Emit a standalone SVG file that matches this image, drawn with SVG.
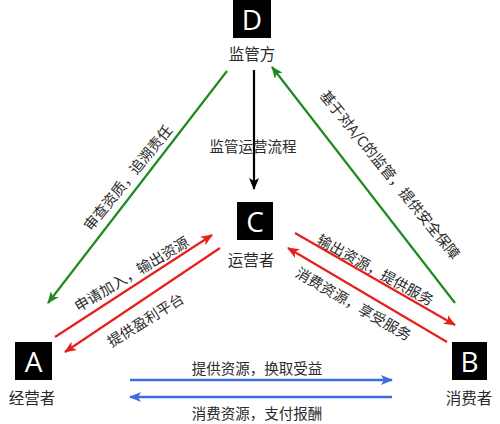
<svg xmlns="http://www.w3.org/2000/svg" width="500" height="424" viewBox="0 0 500 424">
<style>
.box{fill:#000}
.ltr{font-family:"Open Sans","Liberation Sans",sans-serif;font-size:28px;fill:#fff;text-anchor:middle;dominant-baseline:central}
.lbl{font-family:"Noto Sans CJK SC",sans-serif;font-size:14.5px;fill:#2a2a2a;text-anchor:middle;dominant-baseline:central}
.nl{font-size:15.5px}
.g{stroke:#1f8a1f;stroke-width:2.2;fill:none}
.r{stroke:#e8201c;stroke-width:2.2;fill:none}
.b{stroke:#3c6ee0;stroke-width:2.5;fill:none}
.k{stroke:#000;stroke-width:2.2;fill:none}
</style>
<defs>
<marker id="ag" viewBox="0 0 12 10" refX="11" refY="5" markerWidth="12" markerHeight="10" markerUnits="userSpaceOnUse" orient="auto"><path d="M0,0 L12,5 L0,10 L3,5 z" fill="#1f8a1f"/></marker>
<marker id="ar" viewBox="0 0 12 10" refX="11" refY="5" markerWidth="12" markerHeight="10" markerUnits="userSpaceOnUse" orient="auto"><path d="M0,0 L12,5 L0,10 L3,5 z" fill="#e8201c"/></marker>
<marker id="ab" viewBox="0 0 12 10" refX="11" refY="5" markerWidth="12" markerHeight="10" markerUnits="userSpaceOnUse" orient="auto"><path d="M0,0 L12,5 L0,10 L3,5 z" fill="#3c6ee0"/></marker>
<marker id="ak" viewBox="0 0 12 10" refX="11" refY="5" markerWidth="12" markerHeight="10" markerUnits="userSpaceOnUse" orient="auto"><path d="M0,0 L12,5 L0,10 L3,5 z" fill="#000"/></marker>
</defs>
<rect width="500" height="424" fill="#fff"/>
<g id="connectors">
<line class="k" x1="254" y1="70" x2="254" y2="189" marker-end="url(#ak)"/>
<line class="g" x1="227" y1="71" x2="48" y2="303" marker-end="url(#ag)"/>
<line class="g" x1="455" y1="303" x2="272" y2="67" marker-end="url(#ag)"/>
<line class="r" x1="55" y1="337" x2="212" y2="235" marker-end="url(#ar)"/>
<line class="r" x1="220" y1="248" x2="65" y2="352" marker-end="url(#ar)"/>
<line class="r" x1="295" y1="233" x2="455" y2="325" marker-end="url(#ar)"/>
<line class="r" x1="447" y1="342" x2="288" y2="248" marker-end="url(#ar)"/>
<line class="b" x1="130" y1="380" x2="392" y2="380" marker-end="url(#ab)"/>
<line class="b" x1="392" y1="397" x2="130" y2="397" marker-end="url(#ab)"/>
<text class="lbl" x="253" y="145">监管运营流程</text>
<text class="lbl" transform="translate(127,177) rotate(-51)">审查资质，追溯责任</text>
<text class="lbl" transform="translate(391,174) rotate(51)">基于对A/C的监管，提供安全保障</text>
<text class="lbl" transform="translate(131,273) rotate(-31)">申请加入，输出资源</text>
<text class="lbl" transform="translate(145,319) rotate(-32)">提供盈利平台</text>
<text class="lbl" transform="translate(376,269) rotate(29)">输出资源，提供服务</text>
<text class="lbl" transform="translate(354,303) rotate(30)">消费资源，享受服务</text>
<text class="lbl" x="257" y="367">提供资源，换取受益</text>
<text class="lbl" x="257" y="412">消费资源，支付报酬</text>
</g>
<g id="D">
<rect class="box" x="233" y="0" width="38" height="38"/>
<text class="ltr" x="252" y="19">D</text>
<text class="lbl nl" x="252" y="53">监管方</text>
</g>
<g id="C">
<rect class="box" x="237" y="202" width="36" height="38"/>
<text class="ltr" x="255" y="221">C</text>
<text class="lbl nl" x="251" y="259">运营者</text>
</g>
<g id="A">
<rect class="box" x="15" y="342" width="37" height="38"/>
<text class="ltr" x="33.5" y="361">A</text>
<text class="lbl nl" x="32" y="397">经营者</text>
</g>
<g id="B">
<rect class="box" x="452" y="342" width="35" height="38"/>
<text class="ltr" x="469.5" y="361">B</text>
<text class="lbl nl" x="469" y="397">消费者</text>
</g>
</svg>
